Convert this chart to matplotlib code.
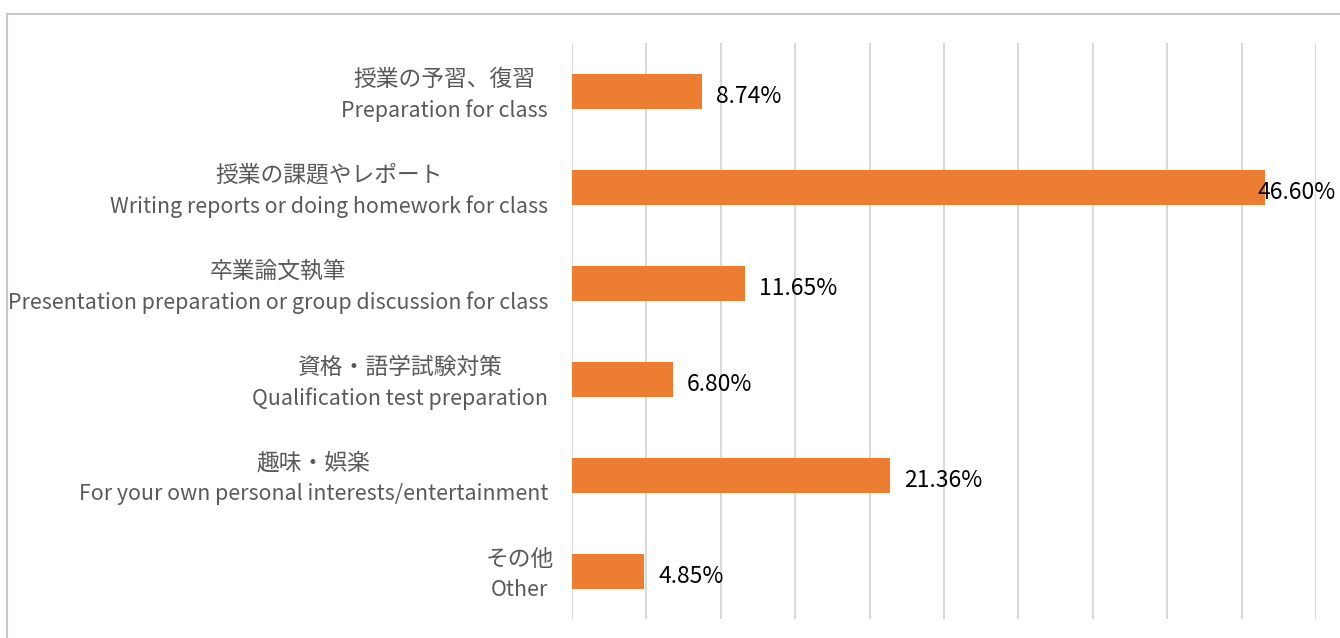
import matplotlib
matplotlib.use('Agg')
import matplotlib.pyplot as plt
from matplotlib.patches import Rectangle
from matplotlib.transforms import blended_transform_factory, offset_copy

plt.rcParams['font.family'] = ['Noto Sans CJK JP', 'DejaVu Sans']

labels_jp = ['授業の予習、復習', '授業の課題やレポート', '卒業論文執筆',
             '資格・語学試験対策', '趣味・娯楽', 'その他']
labels_en = ['Preparation for class',
             'Writing reports or doing homework for class',
             'Presentation preparation or group discussion for class',
             'Qualification test preparation',
             'For your own personal interests/entertainment',
             'Other']
values = [8.74, 46.60, 11.65, 6.80, 21.36, 4.85]

fig = plt.figure(figsize=(13.4, 6.38), dpi=100)
ax = fig.add_axes([572 / 1340, 1 - 619.3 / 638, (1316 - 572) / 1340, 576 / 638])

# outer chart border
fig.patches.append(Rectangle((7 / 1340, -0.1), 1.1, 1 - 14 / 638 + 0.1,
                             transform=fig.transFigure, fill=False,
                             edgecolor='#C8C8C8', linewidth=1.5))

pos = list(range(len(values)))
ax.barh(pos, values, height=0.36, color='#ED7D31', zorder=2)

ax.set_xlim(0, 50)
ax.set_ylim(len(values) - 0.5, -0.5)
ax.set_xticks(range(0, 51, 5))
ax.set_xticklabels([])
ax.set_yticks(pos)
ax.set_yticklabels([])
ax.grid(axis='x', color='#D9D9D9', linewidth=1.5, zorder=0)
ax.tick_params(length=0)
for s in ax.spines.values():
    s.set_visible(False)

# two-line category labels: English right-aligned, Japanese centred over it
trans = blended_transform_factory(ax.transAxes, ax.transData)
fig.canvas.draw()
renderer = fig.canvas.get_renderer()
for p, jp, en in zip(pos, labels_jp, labels_en):
    t_en = ax.text(0, p, en, transform=offset_copy(trans, fig, x=-24, y=-19, units='dots'),
                   ha='right', va='center', fontsize=15.4, color='#595959')
    bb = t_en.get_window_extent(renderer)
    cx = (bb.x0 + bb.x1) / 2 - ax.bbox.x0
    ax.text(0, p, jp, transform=offset_copy(trans, fig, x=cx, y=12, units='dots'),
            ha='center', va='center', fontsize=16.4, color='#595959')

for p, v in zip(pos, values):
    if v > 45:
        ax.annotate(f'{v:.2f}%', (50, p), xytext=(20, -5), textcoords='offset pixels',
                    ha='right', va='center', fontsize=16.5, color='black')
    else:
        ax.annotate(f'{v:.2f}%', (v, p), xytext=(14, -5), textcoords='offset pixels',
                    ha='left', va='center', fontsize=16.5, color='black')

fig.savefig('out.png', dpi=100)
